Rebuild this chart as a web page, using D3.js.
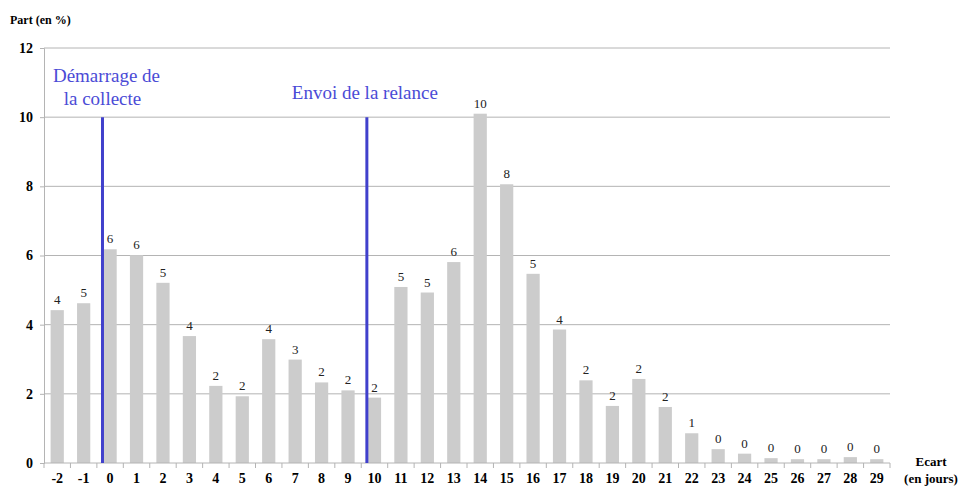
<!DOCTYPE html>
<html>
<head>
<meta charset="utf-8">
<script src="https://cdn.jsdelivr.net/npm/d3@7"></script>
<style>
  body { margin: 0; background: #fff; }
</style>
</head>
<body>
<script>
'use strict';

// days relative to the start of the collection
const days = d3.range(-2, 30);
// share of answers (%)
const shares = [4.42, 4.62, 6.18, 6.01, 5.21, 3.67, 2.23, 1.93, 3.58, 2.99, 2.33, 2.10,
  1.89, 5.09, 4.93, 5.81, 10.1, 8.06, 5.47, 3.86, 2.39, 1.65, 2.43, 1.62,
  0.86, 0.40, 0.27, 0.14, 0.11, 0.11, 0.17, 0.11];
const yTicks = [0, 2, 4, 6, 8, 10, 12];
// vertical markers
const markers = [
  { day: 0, lines: ["Démarrage de", "la collecte"] },
  { day: 10, lines: ["Envoi de la relance"] }
];

const serif = '"Liberation Serif"';
const width = 960, height = 486;
const margin = { top: 48, right: 70, bottom: 23, left: 44 };

const svg = d3.select('body').append('svg')
  .attr('width', width)
  .attr('height', height)
  .style('font-family', serif);

let x = d3.scaleBand()
  .domain(days)
  .range([margin.left, width - margin.right])
  .paddingInner(0.5)
  .paddingOuter(0.25);

let y = d3.scaleLinear()
  .domain([0, 12])
  .range([height - margin.bottom, margin.top]);

// gridlines
svg.append('g')
  .selectAll('line')
  .data(yTicks.filter(d => d > 0))
  .enter().append('line')
  .attr('x1', margin.left).attr('x2', width - margin.right)
  .attr('y1', d => y(d)).attr('y2', d => y(d))
  .attr('stroke', '#b4b4b4').attr('stroke-width', 1);

// y axis
let yAxis = svg.append('g')
  .attr('transform', 'translate(' + margin.left + ',0)')
  .call(d3.axisLeft(y).tickValues(yTicks).tickSize(4).tickFormat(d3.format('d')))
  .attr('font-family', null);
yAxis.select('.domain').attr('stroke', '#b4b4b4');
yAxis.selectAll('.tick line').attr('stroke', '#b4b4b4');
yAxis.selectAll('.tick text')
  .attr('x', -11)
  .style('font-family', serif)
  .style('font-size', '14px').style('font-weight', 'bold').attr('fill', '#000');

// bars
svg.append('g')
  .selectAll('rect')
  .data(days)
  .enter().append('rect')
  .attr('x', d => x(d))
  .attr('y', (d, i) => y(shares[i]))
  .attr('width', x.bandwidth())
  .attr('height', (d, i) => y(0) - y(shares[i]))
  .attr('fill', '#cccccc');

// value labels
svg.append('g')
  .selectAll('text')
  .data(days)
  .enter().append('text')
  .attr('x', d => x(d) + x.bandwidth() / 2)
  .attr('y', (d, i) => y(shares[i]) - 6)
  .attr('text-anchor', 'middle')
  .style('font-family', serif)
  .style('font-size', '13px')
  .attr('fill', '#222')
  .text((d, i) => Math.round(shares[i]));

// x axis with ticks between bands
let step = x.step();
let xAxis = svg.append('g');
xAxis.append('line')
  .attr('x1', margin.left).attr('x2', width - margin.right)
  .attr('y1', y(0)).attr('y2', y(0))
  .attr('stroke', '#b4b4b4');
xAxis.selectAll('.tk')
  .data(days)
  .enter().append('line')
  .attr('class', 'tk')
  .attr('x1', d => x(d) - x.paddingInner() * step / 2)
  .attr('x2', d => x(d) - x.paddingInner() * step / 2)
  .attr('y1', y(0)).attr('y2', y(0) + 5)
  .attr('stroke', '#b4b4b4');
xAxis.append('line')
  .attr('x1', width - margin.right).attr('x2', width - margin.right)
  .attr('y1', y(0)).attr('y2', y(0) + 5)
  .attr('stroke', '#b4b4b4');
xAxis.selectAll('.lbl')
  .data(days)
  .enter().append('text')
  .attr('class', 'lbl')
  .attr('x', d => x(d) + x.bandwidth() / 2)
  .attr('y', y(0) + 20)
  .attr('text-anchor', 'middle')
  .style('font-family', serif)
  .style('font-size', '14px').style('font-weight', 'bold')
  .text(d => d);

// markers
markers.forEach(m => {
  let mx = x(m.day) - 1;
  svg.append('line')
    .attr('x1', mx).attr('x2', mx)
    .attr('y1', y(10)).attr('y2', y(0))
    .attr('stroke', '#4040cc').attr('stroke-width', 3);
  let t = svg.append('text')
    .attr('text-anchor', 'middle')
    .attr('fill', '#4b4bd6')
    .style('font-family', serif)
    .style('font-size', '19px');
  if (m.lines.length > 1) {
    t.append('tspan').attr('x', mx + 4).attr('y', 82).text(m.lines[0]);
    t.append('tspan').attr('x', mx).attr('y', 105).text(m.lines[1]);
  } else {
    t.attr('x', mx - 2).attr('y', 99).text(m.lines[0]);
  }
});

// axis titles
svg.append('text')
  .attr('x', 10).attr('y', 24)
  .style('font-family', serif)
  .style('font-size', '12px').style('font-weight', 'bold')
  .text('Part (en %)');

svg.append('text')
  .attr('x', 931).attr('y', 466)
  .attr('text-anchor', 'middle')
  .style('font-family', serif)
  .style('font-size', '13px').style('font-weight', 'bold')
  .text('Ecart');
svg.append('text')
  .attr('x', 931).attr('y', 483)
  .attr('text-anchor', 'middle')
  .style('font-family', serif)
  .style('font-size', '13px').style('font-weight', 'bold')
  .text('(en jours)');
</script>
</body>
</html>
